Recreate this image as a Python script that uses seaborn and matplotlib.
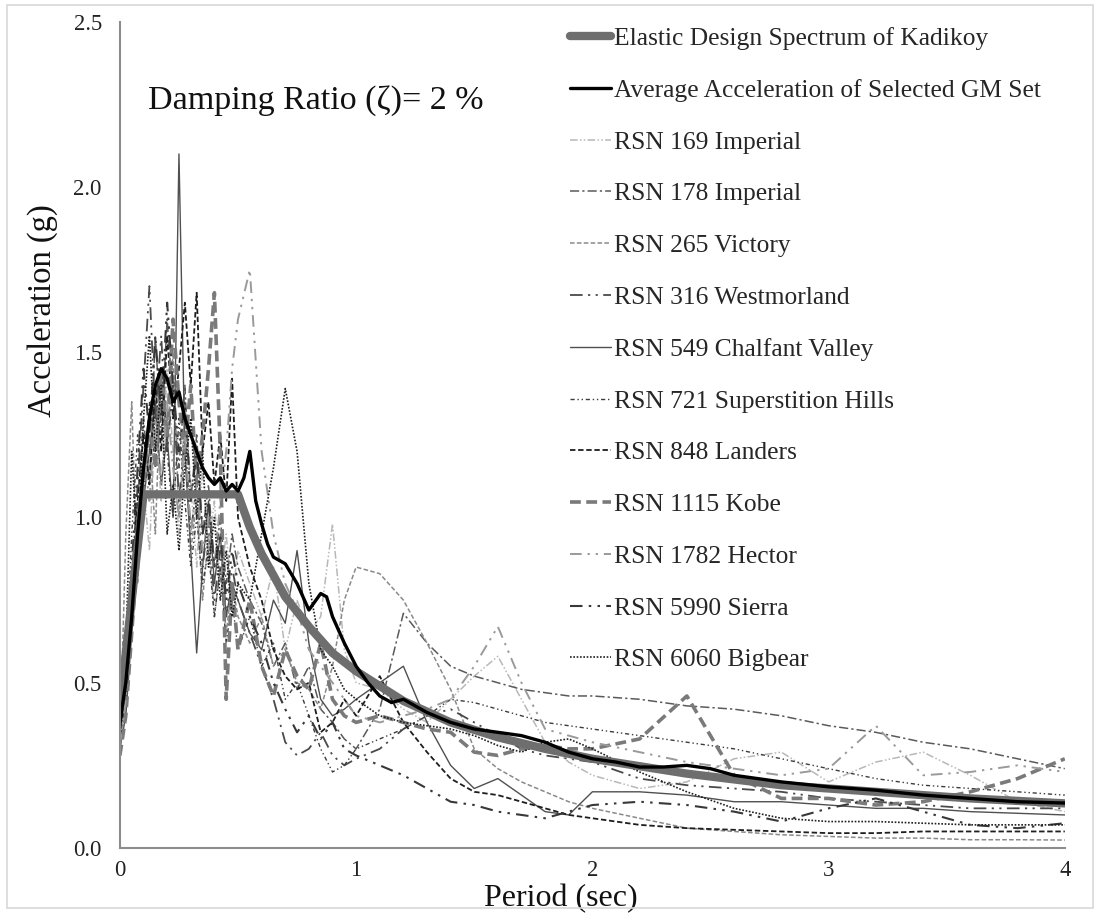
import matplotlib
matplotlib.use("Agg")
import matplotlib.pyplot as plt
import seaborn as sns
import pandas as pd
from matplotlib.patches import Rectangle

# Period grid shared by the recorded ground motions (sec)
periods = [0.0, 0.025, 0.05, 0.075, 0.1, 0.125, 0.15, 0.175, 0.2, 0.225, 0.25,
           0.275, 0.3, 0.325, 0.35, 0.375, 0.4, 0.425, 0.45, 0.475, 0.5,
           0.55, 0.6, 0.65, 0.7, 0.75, 0.8, 0.85, 0.9, 0.95, 1.0,
           1.1, 1.2, 1.3, 1.4, 1.5, 1.6, 1.7, 1.8, 1.9, 2.0,
           2.2, 2.4, 2.6, 2.8, 3.0, 3.2, 3.4, 3.6, 3.8, 4.0]

# Spectral accelerations (g), 2 % damping
rsn169 = [0.30, 0.42, 0.70, 0.95, 1.10, 0.90, 1.30, 1.05, 1.45, 1.20, 0.95, 1.35, 1.10, 0.85, 1.15, 0.90, 1.05, 0.80, 0.95, 0.75, 0.90,
          0.80, 0.70, 0.85, 0.60, 0.75, 0.65, 0.70, 0.98, 0.60, 0.50,
          0.48, 0.42, 0.38, 0.45, 0.52, 0.58, 0.45, 0.32, 0.26, 0.22,
          0.18, 0.20, 0.27, 0.29, 0.20, 0.26, 0.29, 0.22, 0.14, 0.11]
rsn178 = [0.33, 0.45, 0.75, 1.05, 1.30, 1.10, 1.55, 1.25, 1.60, 1.35, 1.15, 1.40, 1.05, 1.25, 0.95, 1.10, 0.85, 1.00, 0.80, 0.95, 0.85,
          0.75, 0.68, 0.55, 0.62, 0.48, 0.55, 0.42, 0.38, 0.33, 0.30,
          0.42, 0.71, 0.62, 0.55, 0.52, 0.50, 0.48, 0.47, 0.46, 0.46,
          0.45, 0.43, 0.42, 0.40, 0.37, 0.35, 0.32, 0.30, 0.27, 0.24]
rsn265 = [0.30, 0.95, 1.35, 0.80, 1.10, 1.25, 0.95, 1.45, 1.20, 1.50, 1.00, 1.20, 0.90, 1.05, 0.75, 0.95, 0.70, 0.85, 0.65, 0.80, 0.70,
          0.62, 0.70, 0.55, 0.60, 0.50, 0.48, 0.42, 0.55, 0.75, 0.85,
          0.83, 0.75, 0.62, 0.48, 0.30, 0.24, 0.20, 0.17, 0.14, 0.12,
          0.09, 0.06, 0.05, 0.04, 0.035, 0.03, 0.03, 0.025, 0.025, 0.024]
rsn316 = [0.36, 0.50, 0.80, 1.10, 1.40, 1.70, 1.30, 1.55, 1.20, 1.40, 1.05, 1.25, 0.95, 1.10, 0.85, 1.00, 0.75, 0.90, 0.70, 0.85, 0.75,
          0.65, 0.55, 0.45, 0.32, 0.28, 0.30, 0.35, 0.28, 0.25, 0.27,
          0.30, 0.36, 0.40, 0.42, 0.38, 0.34, 0.30, 0.28, 0.27, 0.26,
          0.21, 0.19, 0.18, 0.17, 0.15, 0.14, 0.13, 0.12, 0.12, 0.12]
rsn549 = [0.30, 0.40, 0.65, 0.90, 1.05, 1.20, 1.35, 1.10, 1.25, 1.00, 2.10, 1.20, 0.90, 0.59, 0.85, 1.05, 0.80, 0.95, 0.70, 0.80, 0.75,
          0.65, 0.60, 0.75, 0.68, 0.90, 0.62, 0.45, 0.40, 0.42, 0.45,
          0.50, 0.55, 0.38, 0.25, 0.18, 0.21, 0.16, 0.11, 0.10, 0.17,
          0.17, 0.16, 0.14, 0.14, 0.13, 0.12, 0.12, 0.11, 0.105, 0.10]
rsn721 = [0.32, 0.55, 0.95, 1.25, 1.05, 1.35, 1.15, 1.45, 1.20, 1.00, 1.30, 1.05, 0.85, 1.00, 0.80, 0.90, 0.70, 0.85, 0.62, 0.75, 0.60,
          0.70, 0.55, 0.62, 0.45, 0.50, 0.40, 0.30, 0.23, 0.25, 0.30,
          0.33, 0.36, 0.40, 0.45, 0.44, 0.42, 0.40, 0.38, 0.37, 0.36,
          0.34, 0.32, 0.30, 0.27, 0.24, 0.21, 0.19, 0.18, 0.17, 0.16]
rsn848 = [0.34, 0.48, 0.80, 1.05, 1.25, 1.10, 1.40, 1.20, 1.55, 1.30, 1.45, 1.65, 1.40, 1.68, 1.20, 1.35, 1.10, 1.25, 1.05, 1.42, 1.00,
          0.85, 0.75, 0.60, 0.52, 0.48, 0.50, 0.35, 0.38, 0.45, 0.40,
          0.52, 0.38, 0.29, 0.21, 0.17, 0.16, 0.14, 0.12, 0.10, 0.09,
          0.07, 0.06, 0.055, 0.05, 0.045, 0.045, 0.05, 0.05, 0.05, 0.05]
rsn1115 = [0.28, 0.40, 0.65, 0.90, 1.10, 1.30, 1.15, 1.45, 1.25, 1.60, 1.35, 1.20, 1.40, 1.10, 1.25, 1.45, 1.68, 1.20, 0.45, 0.80, 0.60,
           0.75, 0.55, 0.46, 0.60, 0.52, 0.48, 0.62, 0.45, 0.40, 0.38,
           0.40, 0.38, 0.36, 0.35, 0.29, 0.28, 0.30, 0.31, 0.30, 0.30,
           0.33, 0.46, 0.22, 0.15, 0.15, 0.13, 0.14, 0.17, 0.21, 0.27]
rsn1782 = [0.31, 0.45, 0.75, 1.00, 1.20, 1.05, 1.30, 1.10, 1.35, 1.15, 1.00, 1.25, 0.95, 1.10, 0.90, 1.00, 0.85, 1.05, 1.20, 1.45, 1.60,
           1.75, 1.20, 0.95, 0.80, 0.72, 0.60, 0.55, 0.50, 0.45, 0.40,
           0.38, 0.40, 0.42, 0.45, 0.55, 0.67, 0.50, 0.36, 0.34, 0.32,
           0.29, 0.26, 0.24, 0.22, 0.24, 0.37, 0.22, 0.23, 0.25, 0.23]
rsn5990 = [0.35, 0.50, 0.85, 1.15, 1.45, 1.25, 1.55, 1.30, 1.65, 1.40, 1.20, 1.35, 1.05, 1.20, 0.95, 1.05, 0.85, 0.95, 0.75, 0.90, 0.80,
           0.70, 0.62, 0.50, 0.42, 0.35, 0.40, 0.33, 0.38, 0.30, 0.28,
           0.25, 0.22, 0.18, 0.14, 0.13, 0.11, 0.10, 0.09, 0.11, 0.13,
           0.14, 0.13, 0.11, 0.08, 0.12, 0.15, 0.11, 0.07, 0.06, 0.075]
rsn6060 = [0.33, 0.60, 1.20, 0.90, 1.30, 1.55, 1.20, 1.40, 0.95, 1.10, 0.90, 1.15, 1.30, 1.00, 1.20, 0.85, 1.00, 0.75, 0.90, 0.70, 0.80,
           0.75, 0.95, 1.15, 1.39, 1.20, 0.80, 0.60, 0.55, 0.48, 0.45,
           0.40, 0.38, 0.37, 0.36, 0.34, 0.31, 0.29, 0.32, 0.33, 0.30,
           0.23, 0.17, 0.12, 0.09, 0.08, 0.08, 0.075, 0.07, 0.07, 0.07]

# Mean spectrum of the selected set
avg_periods = [0.0, 0.025, 0.05, 0.075, 0.1, 0.125, 0.15, 0.175, 0.2, 0.225, 0.25, 0.275, 0.3, 0.325,
               0.35, 0.375, 0.4, 0.425, 0.45, 0.475, 0.5, 0.525, 0.55, 0.575, 0.6, 0.625, 0.65, 0.7,
               0.75, 0.8, 0.85, 0.875, 0.9, 0.95, 1.0, 1.05, 1.1, 1.15, 1.2, 1.3, 1.4, 1.5, 1.6, 1.7,
               1.8, 1.9, 2.0, 2.1, 2.2, 2.3, 2.4, 2.5, 2.6, 2.8, 3.0, 3.2, 3.4, 3.6, 3.8, 4.0]
avg_accel = [0.38, 0.50, 0.70, 0.95, 1.15, 1.30, 1.40, 1.45, 1.42, 1.35, 1.38, 1.30, 1.25, 1.20,
             1.15, 1.12, 1.10, 1.12, 1.08, 1.10, 1.08, 1.12, 1.20, 1.05, 0.98, 0.92, 0.88, 0.86,
             0.80, 0.72, 0.77, 0.76, 0.70, 0.62, 0.55, 0.50, 0.46, 0.44, 0.45, 0.41, 0.38, 0.36, 0.35, 0.34,
             0.32, 0.29, 0.27, 0.26, 0.245, 0.245, 0.25, 0.24, 0.22, 0.20, 0.185, 0.175, 0.16, 0.15, 0.14, 0.136]

# Elastic design spectrum (Kadikoy)
design_periods = [0.0, 0.1, 0.5, 0.55, 0.6, 0.7, 0.8, 0.9, 1.0, 1.2, 1.4, 1.6, 1.8, 2.0,
                  2.4, 2.8, 3.2, 3.6, 4.0]
design_accel = [0.43, 1.07, 1.07, 0.97, 0.89, 0.76, 0.67, 0.59, 0.535, 0.445, 0.38, 0.335, 0.30, 0.27,
                0.225, 0.19, 0.17, 0.15, 0.135]

records = [
    ("RSN 169 Imperial", rsn169, "#b8b8b8", (0, (5, 1.5, 1, 1.5, 1, 1.5)), 1.1),
    ("RSN 178 Imperial", rsn178, "#5a5a5a", (0, (6, 2, 1.5, 2)), 1.1),
    ("RSN 265 Victory", rsn265, "#8a8a8a", (0, (3, 1.5)), 1.1),
    ("RSN 316 Westmorland", rsn316, "#4a4a4a", (0, (7, 3, 1.2, 3, 1.2, 3)), 1.3),
    ("RSN 549 Chalfant Valley", rsn549, "#505050", "-", 1.0),
    ("RSN 721 Superstition Hills", rsn721, "#3c3c3c", (0, (3, 2, 1, 2, 1, 2)), 1.0),
    ("RSN 848 Landers", rsn848, "#1e1e1e", (0, (3, 1.5)), 1.3),
    ("RSN 1115 Kobe", rsn1115, "#7a7a7a", (0, (3, 1.5)), 2.6),
    ("RSN 1782 Hector", rsn1782, "#9a9a9a", (0, (6, 3, 1.2, 3, 1.2, 3)), 1.4),
    ("RSN 5990 Sierra", rsn5990, "#383838", (0, (6, 3, 1.2, 3, 1.2, 3)), 1.5),
    ("RSN 6060 Bigbear", rsn6060, "#202020", (0, (1, 1)), 1.2),
]

sns.set_style("white")
plt.rcParams["font.family"] = ["Liberation Serif", "DejaVu Serif"]

fig = plt.figure(figsize=(11, 9.13), dpi=100)
ax = fig.add_axes([0.109, 0.0712, 0.859, 0.905])

for name, vals, color, ls, lw in records:
    df = pd.DataFrame({"Period": periods, "Accel": vals})
    sns.lineplot(data=df, x="Period", y="Accel", ax=ax, color=color, linestyle=ls,
                 linewidth=lw, label=name, estimator=None, sort=False)

df_design = pd.DataFrame({"Period": design_periods, "Accel": design_accel})
sns.lineplot(data=df_design, x="Period", y="Accel", ax=ax, color="#6e6e6e", linewidth=6,
             solid_capstyle="round", label="Elastic Design Spectrum of Kadikoy",
             estimator=None, sort=False)

df_avg = pd.DataFrame({"Period": avg_periods, "Accel": avg_accel})
sns.lineplot(data=df_avg, x="Period", y="Accel", ax=ax, color="black", linewidth=2.4,
             label="Average Acceleration of Selected GM Set", estimator=None, sort=False)

ax.set_xlim(0, 4)
ax.set_ylim(0, 2.5)
ax.set_xticks([0, 1, 2, 3, 4])
ax.set_xticklabels(["0", "1", "2", "3", "4"])
ax.set_yticks([0, 0.5, 1.0, 1.5, 2.0, 2.5])
ax.set_yticklabels(["0.0", "0.5", "1.0", "1.5", "2.0", "2.5"])
ax.tick_params(axis="both", length=0, labelsize=16.3, colors="#222222")
ax.tick_params(axis="x", pad=9)
ax.tick_params(axis="y", pad=13)

for side in ["top", "right"]:
    ax.spines[side].set_visible(False)
for side in ["left", "bottom"]:
    ax.spines[side].set_color("#8c8c8c")
    ax.spines[side].set_linewidth(1.5)

ax.set_xlabel("Period (sec)", fontsize=23, color="#111111")
ax.set_ylabel("Acceleration (g)", fontsize=23.5, color="#111111")
ax.xaxis.set_label_coords(0.467, -0.043)
ax.yaxis.set_label_coords(-0.065, 0.65)

ax.text(0.03, 0.905, "Damping Ratio (\u03b6)= 2 %", transform=ax.transAxes,
        fontsize=24.5, va="center", ha="left", color="#111111")

h, l = ax.get_legend_handles_labels()
order = [l.index("Elastic Design Spectrum of Kadikoy"),
         l.index("Average Acceleration of Selected GM Set")] + \
        [l.index(r[0]) for r in records]
ax.legend([h[i] for i in order], [l[i] for i in order], loc="upper left",
          bbox_to_anchor=(0.466, 1.006), frameon=False, fontsize=18.4,
          handlelength=1.6, handletextpad=0.12, labelspacing=1.13,
          borderaxespad=0.0)

fig.add_artist(Rectangle((0.006, 0.006), 0.988, 0.988, transform=fig.transFigure,
                         fill=False, edgecolor="#d8d8d8", linewidth=1.2))

fig.savefig("out.png", dpi=100)
